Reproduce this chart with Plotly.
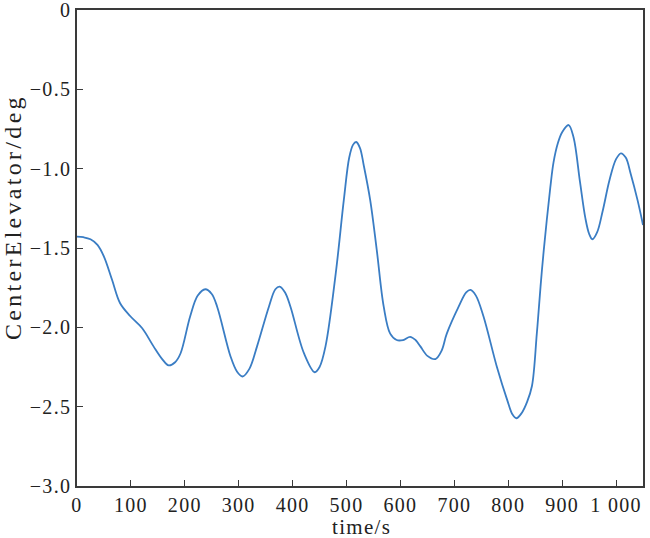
import plotly.graph_objects as go

time_s = [0, 12, 25, 38, 50, 65, 80, 99, 121, 142, 158, 170, 182, 192, 210, 224, 238, 250, 260,
          285, 297, 307, 320, 334, 356, 368, 376, 386, 396, 421, 441, 450, 461, 480, 495, 505,
          512, 518, 525, 532, 544, 556, 569, 581, 593, 605, 618, 628, 637, 650, 665, 676, 686,
          708, 722, 730, 740, 754, 779, 798, 808, 815, 825, 835, 844, 853, 860, 866, 878, 884,
          892, 900, 912, 921, 933, 943, 950, 956, 965, 975, 988, 1000, 1009, 1018, 1027, 1040, 1050]
elevator = [-1.428, -1.432, -1.445, -1.48, -1.554, -1.70, -1.848, -1.93, -2.006, -2.12, -2.20,
            -2.24, -2.22, -2.165, -1.93, -1.80, -1.76, -1.79, -1.87, -2.185, -2.28, -2.31, -2.26,
            -2.12, -1.87, -1.76, -1.743, -1.78, -1.87, -2.163, -2.283, -2.25, -2.12, -1.66,
            -1.197, -0.93, -0.85, -0.832, -0.87, -0.98, -1.20, -1.51, -1.87, -2.04, -2.08, -2.08,
            -2.06, -2.08, -2.12, -2.18, -2.20, -2.15, -2.04, -1.87, -1.78, -1.764, -1.80, -1.93,
            -2.25, -2.457, -2.55, -2.573, -2.54, -2.47, -2.37, -2.04, -1.74, -1.51, -1.12, -0.96,
            -0.84, -0.77, -0.725, -0.80, -1.08, -1.31, -1.41, -1.445, -1.40, -1.27, -1.07, -0.94,
            -0.903, -0.93, -1.03, -1.20, -1.355]

x_tickvals = [0, 100, 200, 300, 400, 500, 600, 700, 800, 900, 1000]
x_ticktext = ["0", "100", "200", "300", "400", "500", "600", "700", "800", "900", "1 000"]
y_tickvals = [0, -0.5, -1.0, -1.5, -2.0, -2.5, -3.0]
y_ticktext = ["0", "\u22120.5", "\u22121.0", "\u22121.5", "\u22122.0", "\u22122.5", "\u22123.0"]

FONT = "Liberation Serif"
AX = "#3a3a3a"


def spaced(s, ls):
    return f'<span style="letter-spacing:{ls}px">{s}</span>'


fig = go.Figure()
fig.add_trace(go.Scatter(x=time_s, y=elevator, mode="lines",
                         line=dict(color="#3a7dc4", width=1.8, shape="spline", smoothing=1.0),
                         showlegend=False, hoverinfo="skip", cliponaxis=True))

common = dict(ticks="inside", ticklen=6, tickcolor=AX, tickwidth=1,
              showline=True, linecolor=AX, linewidth=1.5, mirror=True,
              showgrid=False, zeroline=False, automargin=False,
              ticklabeloverflow="allow",
              tickfont=dict(family=FONT, size=20, color="#222"))

fig.update_xaxes(range=[0, 1050], tickvals=x_tickvals,
                 ticktext=[spaced(t, 1.3) for t in x_ticktext], **common)
fig.update_yaxes(range=[-3.0, 0], tickvals=y_tickvals,
                 ticktext=[spaced(t, 1.3) for t in y_ticktext], **common)

fig.add_annotation(text=spaced("time/s", 1.3), xref="paper", yref="paper",
                   x=0.502, y=-0.086, xanchor="center", yanchor="middle",
                   showarrow=False, font=dict(family=FONT, size=21, color="#222"))
fig.add_annotation(text=spaced("CenterElevator/deg", 3.3), xref="paper", yref="paper",
                   x=-0.113, y=0.565, xanchor="center", yanchor="middle", textangle=-90,
                   showarrow=False, font=dict(family=FONT, size=24, color="#222"))

fig.update_layout(width=650, height=538,
                  margin=dict(l=77, r=7, t=10, b=52, autoexpand=False),
                  plot_bgcolor="white", paper_bgcolor="white")

fig.write_html("out.html", config={"displayModeBar": False},
               post_script="document.body.style.margin='0';document.body.style.overflow='hidden';")
